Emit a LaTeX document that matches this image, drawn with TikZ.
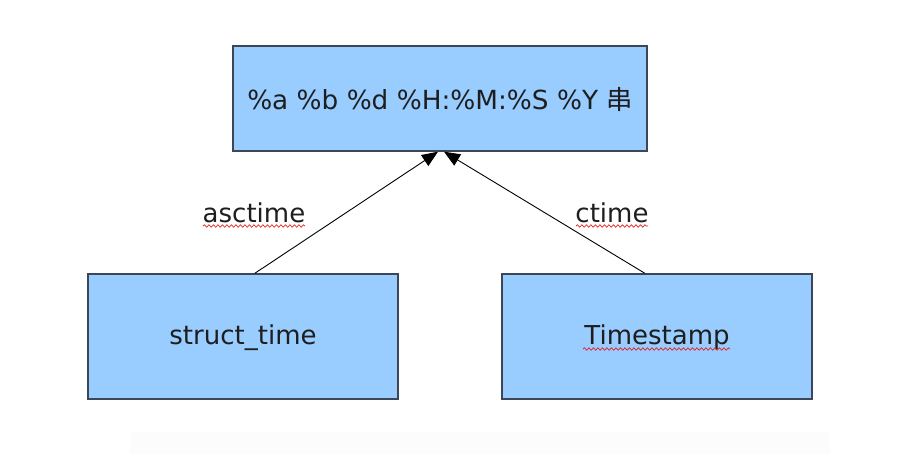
\documentclass[tikz,border=0pt]{standalone}
\usepackage{fontspec}
\setmainfont{DejaVu Sans}
\newfontfamily\cjk{Noto Sans CJK SC}
\usetikzlibrary{arrows.meta,calc,decorations.pathmorphing}
\definecolor{boxfill}{HTML}{99CCFF}
\definecolor{boxline}{HTML}{3C4656}
\definecolor{txt}{HTML}{1E1E1E}
\definecolor{spell}{HTML}{E02020}
\tikzset{
  box/.style={draw=boxline, line width=1.4pt, fill=boxfill, inner sep=0pt},
  boxtext/.style={text=txt, font=\fontsize{26}{30}\selectfont},
  lbl/.style={text=txt, font=\fontsize{26}{30}\selectfont, inner sep=0pt},
  conn/.style={draw=black, line width=0.9pt, -{Triangle[length=16pt,width=13pt]}},
  wavy/.style={draw=spell, line width=0.7pt, decorate, decoration={snake, amplitude=1.2pt, segment length=4.5pt}}
}
\begin{document}
\begin{tikzpicture}[x=1pt,y=-1pt]
\useasboundingbox (0,0) rectangle (900,454);
\fill[gray!2] (130,432) rectangle (830,454);
% boxes
\node[box, minimum width=414pt, minimum height=105pt] (top) at (440,98.5) {};
\node[boxtext] (toptext) at (440,99.5) {\fontsize{26.3}{30}\selectfont \%a \%b \%d \%H:\%M:\%S \%Y {\cjk 串}};
\node[box, minimum width=310pt, minimum height=125pt] (sl) at (243,336.5) {};
\node[boxtext] (sltext) at (243,337.5) {struct\_time};
\node[box, minimum width=310pt, minimum height=125pt] (sr) at (657,336.5) {};
\node[boxtext] (srtext) at (657,337.5) {Timestamp};
% connector endpoints
\coordinate (a1) at ($(sl.north west)!0.538!(sl.north east)$);
\coordinate (a2) at ($(top.south)+(-2,0)$);
\coordinate (b1) at ($(sr.north west)!0.461!(sr.north east)$);
\coordinate (b2) at ($(top.south)+(4,0)$);
\draw[conn] (a1) -- (a2);
\draw[conn] (b1) -- (b2);
% labels
\node[lbl] (la) at (254,213) {asctime};
\node[lbl] (lc) at (612,213) {ctime};
% spell-check underlines
\coordinate (ua1) at (203,226);
\coordinate (ua2) at (305,226);
\coordinate (uc1) at (576,226);
\coordinate (uc2) at (648,226);
\coordinate (ut1) at (583,349);
\coordinate (ut2) at (730,349);
\draw[wavy] (ua1) -- (ua2);
\draw[wavy] (uc1) -- (uc2);
\draw[wavy] (ut1) -- (ut2);
\end{tikzpicture}
\end{document}
